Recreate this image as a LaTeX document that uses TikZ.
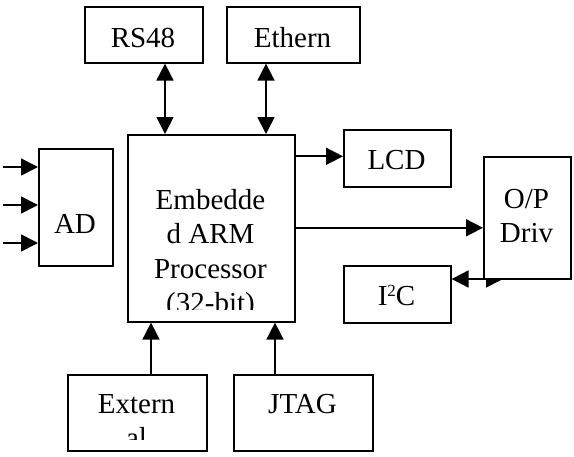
\documentclass[tikz,border=0pt]{standalone}
\usepackage{fontspec}
\setmainfont{Liberation Serif}
\usetikzlibrary{arrows.meta}
\begin{document}
\begin{tikzpicture}[x=1pt,y=-1pt,
  box/.style={draw, line width=1.6pt, fill=white, inner sep=0pt, anchor=north west},
  lbl/.style={font=\fontsize{29}{35}\selectfont, anchor=base, inner sep=0pt},
  conn/.style={line width=1.7pt, -{Triangle[length=17pt,width=17pt]}},
  biconn/.style={line width=1.7pt, {Triangle[length=17pt,width=17pt]}-{Triangle[length=17pt,width=17pt]}}]
\useasboundingbox (0,0) rectangle (574,456);

% boxes
\node[box, minimum width=118pt, minimum height=56pt] (rs) at (84,6) {};
\node[box, minimum width=133pt, minimum height=56pt] (eth) at (226,6) {};
\node[box, minimum width=167pt, minimum height=187pt] (proc) at (127,134) {};
\node[box, minimum width=74pt, minimum height=117pt] (ad) at (38,148) {};
\node[box, minimum width=107pt, minimum height=57pt] (lcd) at (343,129) {};
\node[box, minimum width=107pt, minimum height=57pt] (i2c) at (343,265) {};
\node[box, minimum width=139pt, minimum height=76pt] (ext) at (67,374) {};
\node[box, minimum width=139pt, minimum height=76pt] (jtag) at (233,374) {};

% I2C <-> O/P driver (drawn before the O/P box, which covers part of it)
\coordinate (optip) at (503,279);
\draw[biconn] ([yshift=-14pt]i2c.north east) -- (optip);
\node[box, minimum width=87pt, minimum height=122pt] (op) at (483,156) {};

% labels
\node[lbl] (trs) at (143,47) {RS48};
\node[lbl] (teth) at (292.5,47) {Ethern};
\node[lbl] (tad) at (75,233) {AD};
\node[lbl] (tlcd) at (396.5,169) {LCD};
\node[lbl] (ti2c) at (396.5,305) {I\raisebox{9pt}{\fontsize{17}{17}\selectfont 2}C};
\node[lbl] (top1) at (526.5,208) {O/P};
\node[lbl] (top2) at (526.5,242) {Driv};
\node[lbl] (tjtag) at (302.5,413) {JTAG};
\begin{scope}
  \clip ([yshift=13pt]proc.south west) rectangle (proc.north east);
  \node[lbl] (tp1) at (210.5,209) {Embedde};
  \node[lbl] (tp2) at (210.5,243.5) {d ARM};
  \node[lbl] (tp3) at (210.5,278) {Processor};
  \node[lbl] (tp4) at (210.5,312.5) {(32-bit)};
\end{scope}
\begin{scope}
  \clip ([yshift=12pt]ext.south west) rectangle (ext.north east);
  \node[lbl] (te1) at (136.5,413) {Extern};
  \node[lbl] (te2) at (136.5,447) {al};
\end{scope}

% connectors
\draw[biconn] ([xshift=81pt]rs.south west) -- ([xshift=81pt]rs.south west |- proc.north);
\draw[biconn] ([xshift=40pt]eth.south west) -- ([xshift=40pt]eth.south west |- proc.north);
\draw[conn] ([yshift=2pt]lcd.west -| proc.east) -- ([yshift=2pt]lcd.west);
\draw[conn] ([yshift=-10pt]op.west -| proc.east) -- ([yshift=-10pt]op.west);
\draw[conn] ([xshift=84pt]ext.north west) -- ([xshift=84pt]ext.north west |- proc.south);
\draw[conn] ([xshift=42pt]jtag.north west) -- ([xshift=42pt]jtag.north west |- proc.south);
\coordinate (in1) at (3,167);
\coordinate (in2) at (3,205);
\coordinate (in3) at (3,243);
\draw[conn] (in1) -- (in1 -| ad.west);
\draw[conn] (in2) -- (in2 -| ad.west);
\draw[conn] (in3) -- (in3 -| ad.west);
\end{tikzpicture}
\end{document}
